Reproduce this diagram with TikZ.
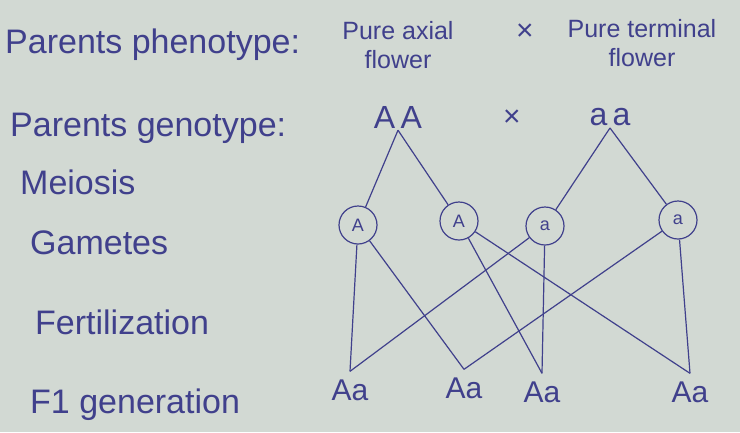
\documentclass[tikz,border=0pt]{standalone}
\usepackage{fontspec}
\setmainfont{Liberation Sans}
\usetikzlibrary{positioning}
\definecolor{ink}{RGB}{64,64,140}
\definecolor{paper}{RGB}{210,217,211}

\begin{document}
\begin{tikzpicture}[
    x=1pt, y=-1pt,
    lbl/.style={text=ink, anchor=west, inner sep=0pt, font=\fontsize{34}{36}\selectfont},
    trait/.style={text=ink, align=center, inner sep=0pt, font=\fontsize{25}{29}\selectfont},
    cross/.style={text=ink, font=\fontsize{30}{32}\selectfont},
    geno/.style={text=ink, inner sep=2pt, font=\fontsize{32}{34}\selectfont},
    gam/.style={circle, draw=ink, line width=1.2pt, text=ink, minimum size=38pt, inner sep=0pt, font=\fontsize{18}{20}\selectfont},
    child/.style={text=ink, inner xsep=2pt, inner ysep=8pt, font=\fontsize{30}{32}\selectfont},
    link/.style={draw=ink, line width=1.2pt},
  ]
  \fill[paper] (0,0) rectangle (740,432);
  \useasboundingbox (0,0) rectangle (740,432);

  % row labels
  \node[lbl] (pheno) at (5,45) {Parents phenotype:};
  \node[lbl] (genolbl) at (10,128) {Parents genotype:};
  \node[lbl] (meiosis) at (20,182) {Meiosis};
  \node[lbl] (gametes) at (30,243) {Gametes};
  \node[lbl] (fert) at (35,322) {Fertilization};
  \node[lbl] (fone) at (30,405) {F1 generation};

  % parents
  \node[trait] (axial) at (398,45) {Pure axial\\flower};
  \node[cross] (crossa) at (525,32) {×};
  \node[trait] (terminal) at (642,43) {Pure terminal\\flower};
  \node[geno] (AA) at (398,117) {A\,A};
  \node[cross] (crossb) at (512,118) {×};
  \node[geno] (aa) at (610,117) {a\,a};

  % gametes
  \node[gam] (gA1) at (358,225) {A};
  \node[gam] (gA2) at (459,221) {A};
  \node[gam] (ga1) at (545,226) {a};
  \node[gam] (ga2) at (678,220) {a};

  % F1
  \node[child] (f1a) at (350,390) {Aa};
  \node[child] (f1b) at (464,388) {Aa};
  \node[child] (f1c) at (542,392) {Aa};
  \node[child] (f1d) at (690,392) {Aa};

  % meiosis
  \draw[link] (AA.south) -- (gA1);
  \draw[link] (AA.south) -- (gA2);
  \draw[link] (aa.south) -- (ga1);
  \draw[link] (aa.south) -- (ga2);

  % fertilization
  \draw[link] (gA1) -- (f1a.north);
  \draw[link] (gA1) -- (f1b.north);
  \draw[link] (gA2) -- (f1c.north);
  \draw[link] (gA2) -- (f1d.north);
  \draw[link] (ga1) -- (f1a.north);
  \draw[link] (ga1) -- (f1c.north);
  \draw[link] (ga2) -- (f1b.north);
  \draw[link] (ga2) -- (f1d.north);
\end{tikzpicture}
\end{document}
